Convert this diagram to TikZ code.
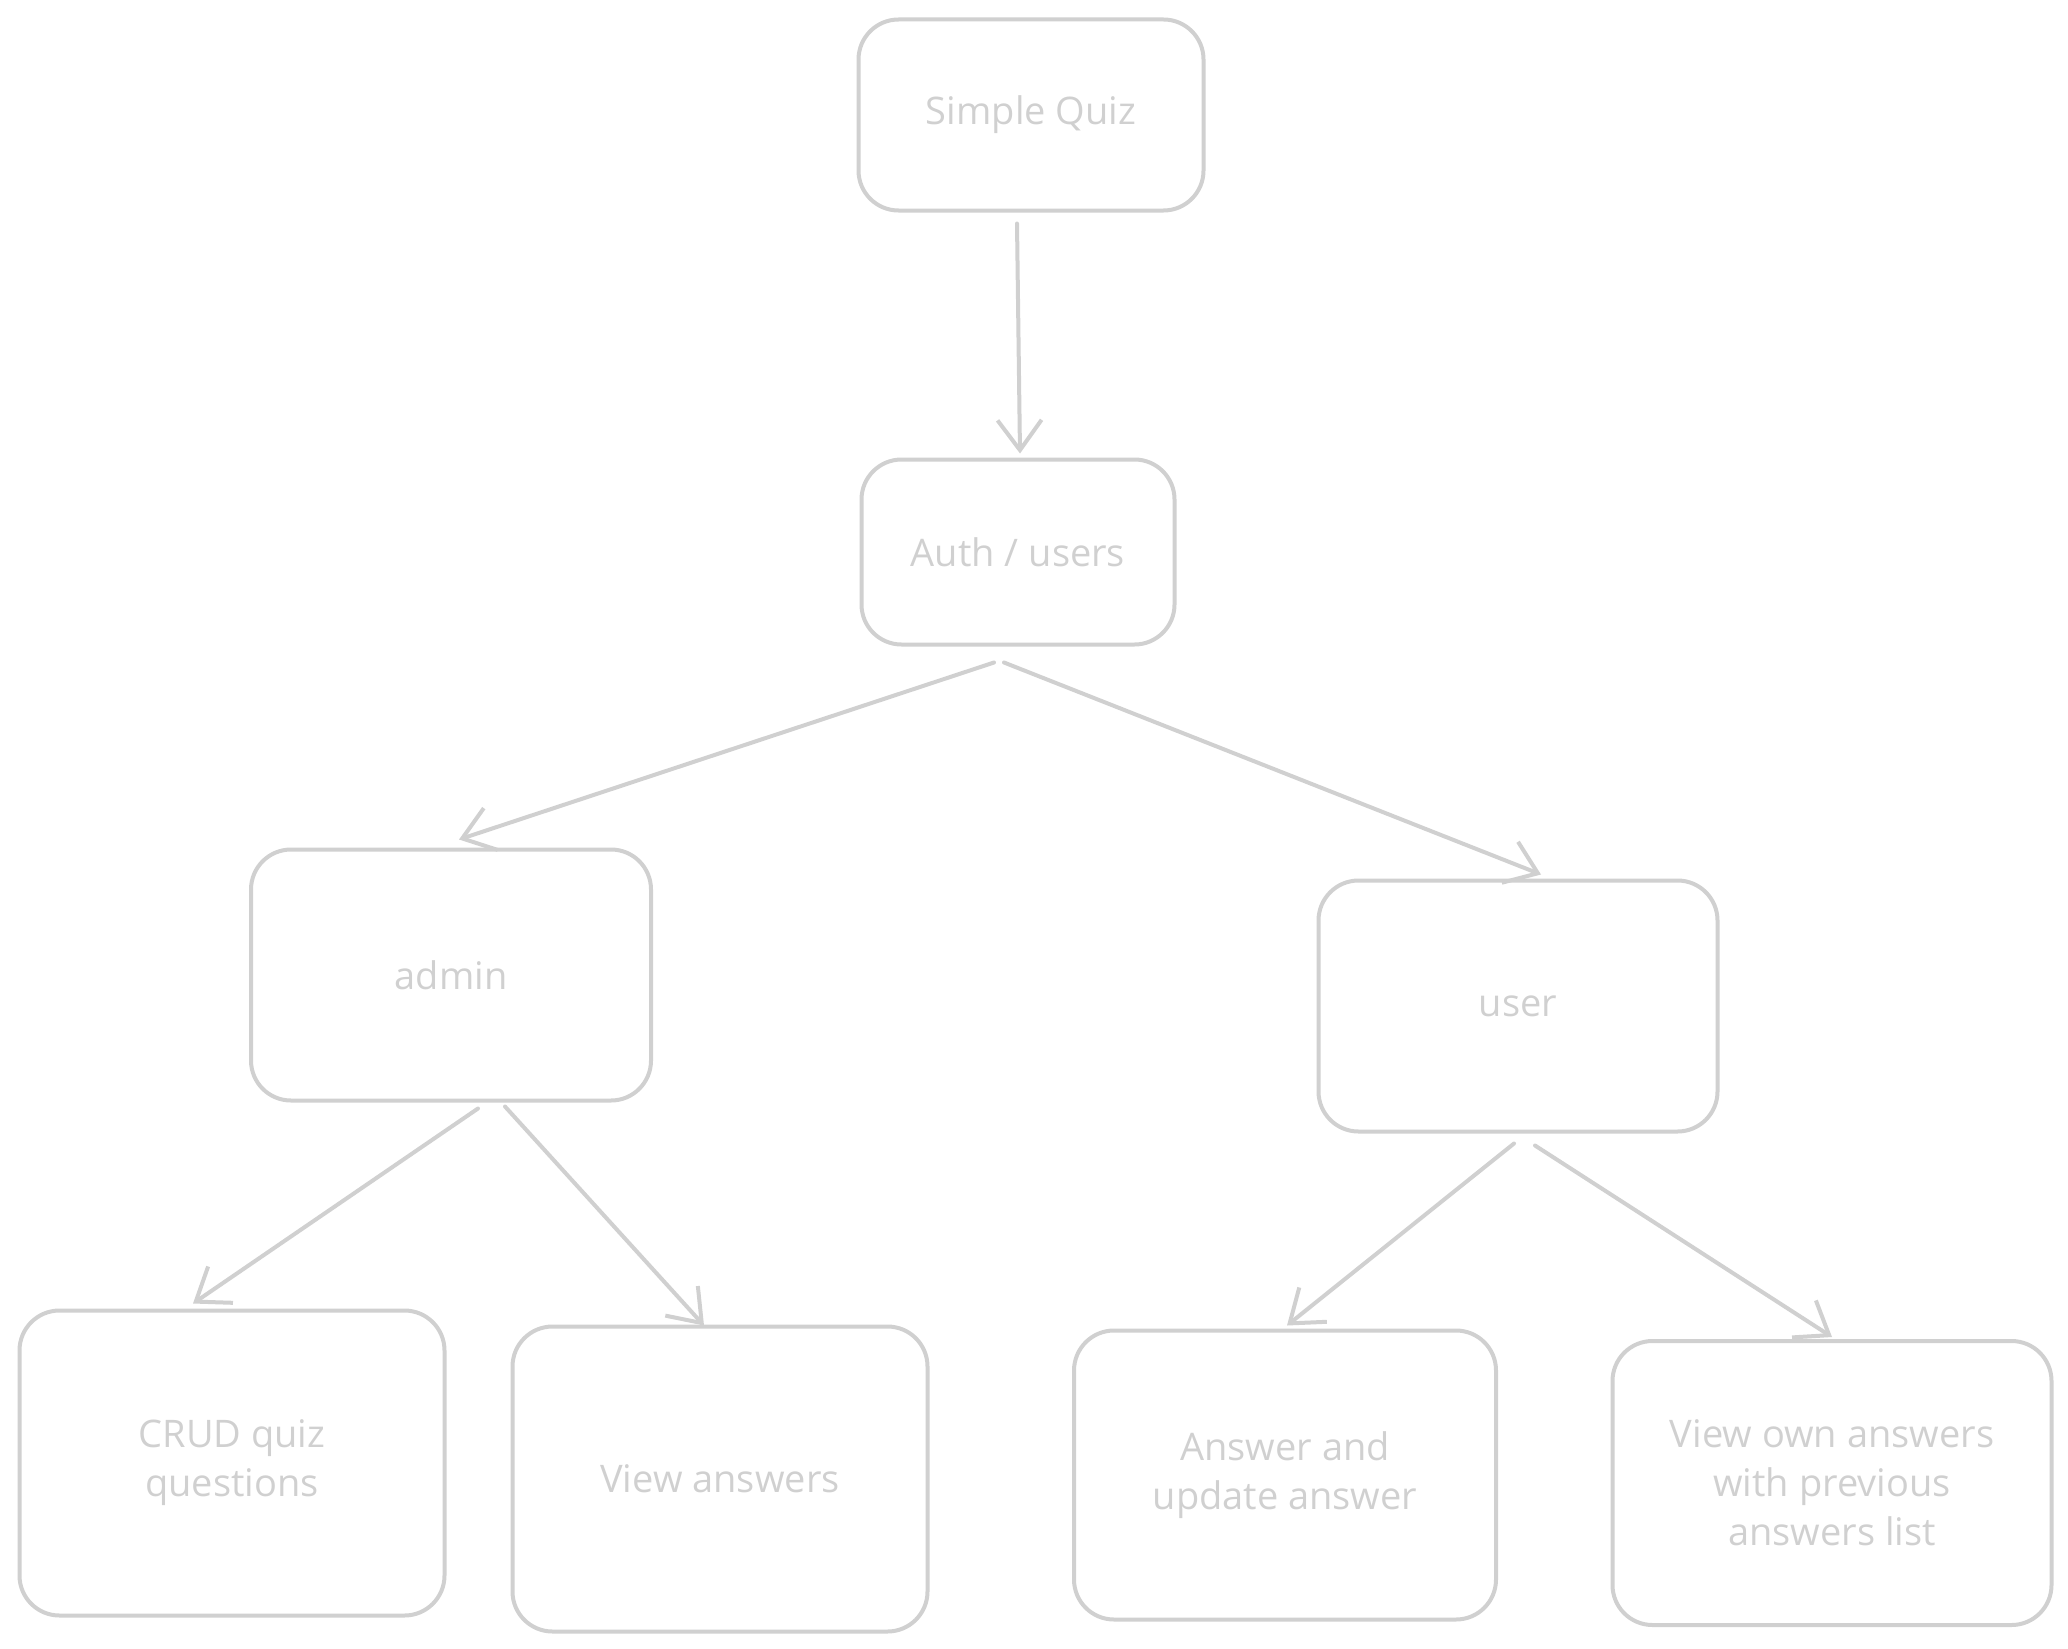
\documentclass[tikz,border=0pt]{standalone}
\usepackage{fontspec}
\setmainfont{Open Sans}
\usepackage{tikz}
\usetikzlibrary{positioning}
\usetikzlibrary{arrows.meta}
\definecolor{sketchc}{RGB}{208,208,208}
\tikzset{
  card/.style={draw=sketchc, line width=4pt, rounded corners=40pt, shape=rectangle,
    text=sketchc, align=center, font=\fontsize{38}{49}\selectfont, inner sep=0pt},
  link/.style={draw=sketchc, line width=4pt, line cap=round,
    -{Straight Barb[length=30pt,width=44pt,line width=4pt]}}
}

\begin{document}
\begin{tikzpicture}[x=1pt,y=-1pt]
\useasboundingbox (0,0) rectangle (2068,1648);

\node[card,minimum width=345pt,minimum height=191pt] (quiz) at (1031,115) {Simple Quiz};
\node[card,minimum width=313pt,minimum height=185pt] (auth) at (1018,552) {Auth / users};

\node[card,minimum width=400pt,minimum height=251pt] (admin) at (451,975) {admin};
\node[card,minimum width=399pt,minimum height=251pt] (user) at (1518,1006) {user};

\node[card,minimum width=425pt,minimum height=305pt] (crud) at (232,1463) {CRUD quiz\\questions};
\node[card,minimum width=415pt,minimum height=305pt] (viewans) at (720,1479) {View answers};
\node[card,minimum width=422pt,minimum height=289pt] (answer) at (1285,1475) {Answer and\\update answer};
\node[card,minimum width=439pt,minimum height=284pt] (viewown) at (1832,1483) {View own answers\\with previous\\answers list};

%arrows
\draw[link] ([shift={(-14,11)}]quiz.south) -- ([shift={(2,-4)}]auth.north);
\draw[link] ([shift={(-24,16)}]auth.south) -- ([shift={(8,-8)}]admin.north);
\draw[link] ([shift={(-14,16)}]auth.south) -- ([shift={(23,-4)}]user.north);
\draw[link] ([shift={(27,6)}]admin.south) -- ([shift={(-39,-5)}]crud.north);
\draw[link] ([shift={(54,4)}]admin.south) -- ([shift={(-16,1)}]viewans.north);
\draw[link] ([shift={(-4,10)}]user.south) -- ([shift={(2,-3)}]answer.north);
\draw[link] ([shift={(17,12)}]user.south) -- ([shift={(0,-2)}]viewown.north);

\end{tikzpicture}
\end{document}
